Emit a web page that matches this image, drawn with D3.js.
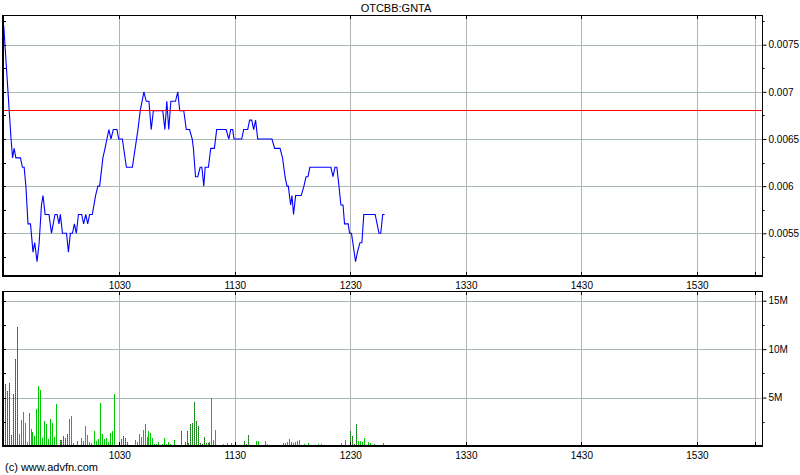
<!DOCTYPE html>
<html><head><meta charset="utf-8">
<script src="https://cdn.jsdelivr.net/npm/d3@7"></script>
<style>
body{margin:0;background:#fff}
svg{display:block}
text{font-family:"Liberation Sans",Arial,Helvetica,sans-serif;fill:#000}
</style>
</head><body>
<svg id="c" width="800" height="475"></svg>
<script>
// ---------- DATA ----------
const chartTitle = "OTCBB:GNTA";
const copyright = "(c) www.advfn.com";
const prevClose = 0.0068;
// trade times in minutes after 09:30
const tradeMin = [0,3.8,4.6,5.4,6.3,8.7,9.7,10.6,11.5,12.6,13.9,15.2,16.1,17.3,18.4,19.6,20.4,21.5,23.5,24.8,26.6,27.7,28.7,29.4,30.5,32.6,33.6,34.6,35.7,36.7,37.7,38.8,40.5,41.5,42.6,43.6,44.6,46.0,47.7,48.9,49.8,51.5,52.6,53.6,54.6,55.7,56.9,58.8,59.7,61.6,63.7,66.8,69.7,70.9,72.8,74.0,75.4,76.6,77.7,82.6,83.7,84.7,85.7,86.8,89.2,90.4,91.4,93.5,94.8,96.5,97.9,98.5,99.6,100.8,102.0,102.9,103.9,104.6,106.3,107.5,109.4,110.6,115.5,116.9,117.9,118.9,119.6,123.6,124.6,126.7,127.7,128.8,129.8,130.8,131.9,139.3,140.7,143.5,144.8,146.1,147.1,147.8,149.0,149.7,150.5,151.6,154.5,155.9,157.0,158.0,159.0,169.9,171.0,172.0,173.0,174.1,175.1,176.2,177.0,178.9,179.6,180.6,182.7,183.7,185.0,186.0,187.0,192.9,193.9,194.9,195.8,196.8,197.8];
const tradePrice = [0.0077,0.0065,0.0063,0.0064,0.0063,0.0063,0.0062,0.0062,0.0060,0.0056,0.0056,0.0053,0.0054,0.0052,0.0054,0.0058,0.0059,0.0057,0.0057,0.0055,0.0057,0.0057,0.0056,0.0057,0.0055,0.0055,0.0053,0.0055,0.0055,0.0056,0.0055,0.0057,0.0057,0.0056,0.0057,0.0056,0.0057,0.0057,0.0059,0.0060,0.0060,0.0063,0.0064,0.0065,0.0066,0.0065,0.0066,0.0066,0.0065,0.0065,0.0062,0.0062,0.0066,0.0068,0.0070,0.0069,0.0069,0.0066,0.0068,0.0068,0.0066,0.0069,0.0066,0.0069,0.0069,0.0070,0.0068,0.0068,0.0066,0.0066,0.0065,0.0064,0.0061,0.0061,0.0062,0.0062,0.0060,0.0062,0.0062,0.0064,0.0064,0.0066,0.0066,0.0065,0.0066,0.0066,0.0065,0.0065,0.0066,0.0066,0.0067,0.0067,0.0066,0.0067,0.0065,0.0065,0.0064,0.0064,0.0063,0.0061,0.0060,0.0060,0.0058,0.0059,0.0057,0.0059,0.0059,0.0060,0.0061,0.0061,0.0062,0.0062,0.0061,0.0062,0.0062,0.0060,0.0058,0.0058,0.0056,0.0056,0.0055,0.0055,0.0052,0.0053,0.0054,0.0054,0.0057,0.0057,0.0056,0.0055,0.0055,0.0057,0.0057];
// volume bars: minutes after 09:30, millions of shares, shade (1 = dark, 0 = green)
const volMin = [0,0.83,1.87,2.9,3.94,4.98,6.01,7.05,8.09,9.12,10.16,11.2,12.23,13.27,14.31,14.83,15.86,16.9,17.94,18.97,20.0,21.05,22.08,23.12,24.16,25.19,26.23,27.27,29.34,29.86,30.9,31.93,32.97,34.0,35.04,36.08,38.15,40.2,41.26,42.3,43.34,44.37,45.41,46.97,48.0,49.04,50.08,51.11,52.15,53.19,54.22,55.26,56.3,57.33,59.93,60.96,62.0,63.04,64.07,68.22,69.26,70.29,71.33,72.37,73.4,74.44,74.96,76.0,77.03,78.07,79.11,80.14,82.22,83.25,84.29,85.33,86.36,88.44,92.07,94.14,95.18,96.21,97.25,98.29,99.33,100.36,101.4,102.44,103.47,104.51,105.55,106.58,107.1,108.14,109.17,110.21,114.36,116.43,118.51,125.25,126.28,127.32,131.47,132.5,136.13,137.17,145.46,146.5,147.54,148.57,149.61,150.65,151.68,152.72,153.76,156.35,158.42,163.6,165.16,175.53,177.6,180.2,181.23,182.27,183.31,184.34,185.38,186.42,187.45,189.53,190.56,192.64,197.3];
const volM = [14.7,6.4,5.7,6.5,1.1,5.4,9.0,12.3,1.2,2.7,3.5,2.4,0.4,3.4,1.8,1.45,1.0,3.8,6.2,5.8,0.8,2.6,2.3,0.7,2.8,2.4,0.9,4.3,0.6,0.6,1.0,0.8,1.2,2.8,3.1,0.3,0.5,0.8,0.5,2.1,1.1,0.4,0.3,1.55,0.5,0.7,4.45,1.2,0.7,0.8,0.4,1.35,1.55,5.4,0.3,0.7,1.0,0.8,0.4,0.6,0.4,1.2,0.9,1.65,2.3,0.9,1.55,1.35,0.8,0.2,0.2,0.4,0.2,0.8,0.2,0.4,0.2,0.6,1.55,0.4,1.55,0.3,2.3,2.4,4.55,2.6,2.1,0.3,0.2,0.9,0.3,0.3,0.4,5.0,0.6,1.65,0.2,0.3,0.3,0.5,0.2,1.1,0.5,0.5,0.5,0.2,0.3,0.3,0.4,0.7,0.4,0.3,0.4,0.5,0.6,0.2,0.3,0.2,0.2,0.3,0.6,1.55,1.0,0.2,2.3,0.5,0.5,0.4,0.8,0.4,0.3,0.2,0.3];
const volDark = [1,1,1,1,1,1,1,1,0,0,0,0,0,0,0,0,0,0,0,0,0,0,0,0,0,0,0,0,1,1,1,1,1,0,0,0,0,0,0,0,0,0,0,0,0,0,0,0,0,0,0,0,0,0,1,1,1,1,1,0,0,0,0,0,0,0,0,0,0,0,0,0,0,0,0,0,0,0,1,1,1,1,1,1,1,1,1,1,1,1,1,1,1,0,0,0,0,0,0,1,1,1,0,0,0,0,0,0,0,0,0,0,0,0,0,0,0,0,0,0,0,1,1,1,1,0,0,0,0,0,0,0,0];
const priceTicks = [0.0055,0.006,0.0065,0.007,0.0075];
const priceTickLabels = ["0.0055","0.006","0.0065","0.007","0.0075"];
const priceMinorTicks = [0.00525,0.00575,0.00625,0.00675,0.00725,0.00775];
const volTicks = [5,10,15];
const volTickLabels = ["5M","10M","15M"];
const volMinorTicks = [2.5,7.5,12.5];
const timeGrid = [60,120,180,240,300,360,390];
const timeTicks = [60,120,180,240,300,360];
const timeTickLabels = ["1030","1130","1230","1330","1430","1530"];

// ---------- LAYOUT ----------
const L = 2, R = 762;
const pTop = 15, pBot = 276, vTop = 291, vBot = 446;
const svg = d3.select("#c");

const x = d3.scaleLinear().domain([-0.9, 393.8]).range([L, R]);
const yP = d3.scaleLinear().domain([0.005047, 0.007815]).range([pBot, pTop]);
const yV = d3.scaleLinear().domain([0, 16]).range([vBot, vTop]);
const px = v => Math.round(v) + 0.5;
const gridH = "#a8b8b8", gridV = "#b4b4b4";

function panel(top, bot, yScale, ticks) {
  const g = svg.append("g").attr("class", "grid");
  g.selectAll("line.hg").data(ticks).join("line").attr("class", "hg")
    .attr("x1", L).attr("x2", R)
    .attr("y1", d => px(yScale(d))).attr("y2", d => px(yScale(d)))
    .attr("stroke", gridH).attr("stroke-width", 1);
  g.selectAll("line.vg").data(timeGrid).join("line").attr("class", "vg")
    .attr("x1", d => px(x(d))).attr("x2", d => px(x(d)))
    .attr("y1", top).attr("y2", bot)
    .attr("stroke", gridV).attr("stroke-width", 1);
}
function frame(top, bot, yScale, ticks, labels, minor) {
  const g = svg.append("g").attr("class", "frame").attr("shape-rendering", "crispEdges");
  g.append("line").attr("x1", L).attr("x2", R + 1).attr("y1", top + 0.5).attr("y2", top + 0.5).attr("stroke", "#000");
  g.append("line").attr("x1", L).attr("x2", R + 1).attr("y1", bot).attr("y2", bot).attr("stroke", "#000").attr("stroke-width", 2);
  g.append("line").attr("x1", L + 1).attr("x2", L + 1).attr("y1", top).attr("y2", bot).attr("stroke", "#000").attr("stroke-width", 2);
  g.selectAll("line.lt").data(ticks.concat(minor)).join("line").attr("class", "lt")
    .attr("x1", L).attr("x2", L + 4)
    .attr("y1", d => px(yScale(d))).attr("y2", d => px(yScale(d)))
    .attr("stroke", "#000");
  g.selectAll("line.tt").data(timeGrid).join("line").attr("class", "tt")
    .attr("x1", d => px(x(d))).attr("x2", d => px(x(d)))
    .attr("y1", top).attr("y2", top + 4).attr("stroke", "#000");
  g.selectAll("line.bt").data(timeGrid).join("line").attr("class", "bt")
    .attr("x1", d => px(x(d))).attr("x2", d => px(x(d)))
    .attr("y1", bot - 4).attr("y2", bot).attr("stroke", "#000");
  const ax = d3.axisRight(yScale).tickValues(ticks)
    .tickFormat((d, i) => labels[i]).tickSize(4).tickPadding(2);
  const ag = svg.append("g").attr("transform", `translate(${R + 0.5},0)`).call(ax);
  ag.select(".domain").attr("d", `M0,${top}V${bot}`).attr("stroke", "#000");
  ag.selectAll(".tick text").style("font-size", "10px").attr("fill", "#000");
  ag.selectAll(".tick line").attr("stroke", "#000");
  ag.selectAll("line.mt").data(minor.filter(d => yScale(d) > top && yScale(d) < bot)).join("line").attr("class", "mt")
    .attr("x1", 0).attr("x2", 2)
    .attr("y1", d => px(yScale(d))).attr("y2", d => px(yScale(d)))
    .attr("stroke", "#000");
}

// ---------- PRICE PANEL ----------
panel(pTop, pBot, yP, priceTicks);
const priceData = tradeMin.map((m, i) => [m, tradePrice[i]]);
svg.append("path").datum(priceData)
  .attr("d", d3.line().x(d => x(d[0])).y(d => yP(d[1])))
  .attr("fill", "none").attr("stroke", "#0000ff").attr("stroke-width", 1.1);
frame(pTop, pBot, yP, priceTicks, priceTickLabels, priceMinorTicks);
// previous close reference line
svg.append("rect").attr("class", "prevclose")
  .attr("x", L + 2).attr("width", R - L - 2)
  .attr("y", Math.floor(yP(prevClose))).attr("height", 1)
  .style("fill", "rgb(255,0,0)").attr("shape-rendering", "crispEdges");

// ---------- VOLUME PANEL ----------
panel(vTop, vBot, yV, volTicks);
const bars = svg.append("g").attr("shape-rendering", "crispEdges");
volMin.forEach((m, i) => {
  const bx = Math.floor(x(m));
  const top = Math.round(yV(volM[i]));
  bars.append("rect").attr("x", bx).attr("y", top).attr("width", 1).attr("height", vBot - top)
    .attr("fill", "#00c800");
  if (volDark[i]) {
    bars.append("line").attr("x1", bx + 0.5).attr("x2", bx + 0.5).attr("y1", top).attr("y2", vBot)
      .attr("stroke", "#505050").attr("stroke-dasharray", "1,1");
  }
});
frame(vTop, vBot, yV, volTicks, volTickLabels, volMinorTicks);

// ---------- TIME LABELS ----------
[pBot + 13, vBot + 13].forEach(yy => {
  svg.append("g").selectAll("text").data(timeTicks).join("text")
    .attr("x", d => x(d) + 0.5).attr("y", yy)
    .attr("text-anchor", "middle").style("font-size", "10px")
    .text((d, i) => timeTickLabels[i]);
});

// ---------- TEXTS ----------
svg.append("text").attr("x", 396).attr("y", 12).attr("text-anchor", "middle")
  .style("font-size", "11px").text(chartTitle);
svg.append("text").attr("x", 5).attr("y", 471).style("font-size", "11px").text(copyright);
</script>
</body></html>
